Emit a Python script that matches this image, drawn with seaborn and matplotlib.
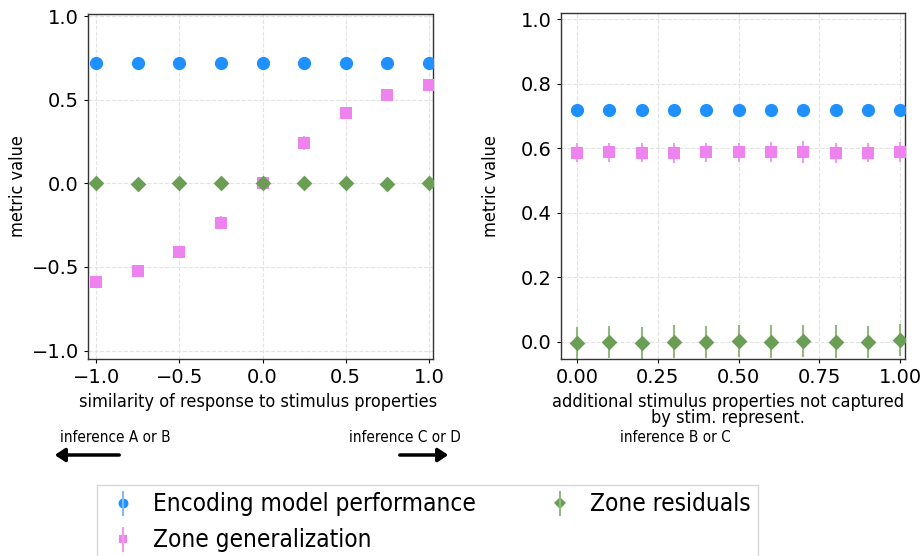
import matplotlib
matplotlib.use("Agg")
import matplotlib.pyplot as plt
from matplotlib.legend_handler import HandlerTuple
from matplotlib.lines import Line2D
from matplotlib.patches import FancyArrowPatch
import pandas as pd
import seaborn as sns

# Left panel: similarity of response to stimulus properties
sim_x = [-1.0, -0.75, -0.5, -0.25, 0.0, 0.25, 0.5, 0.75, 1.0]
sim_encoding = [0.72, 0.72, 0.72, 0.72, 0.72, 0.72, 0.72, 0.72, 0.72]
sim_encoding_err = [0.005, 0.005, 0.005, 0.005, 0.005, 0.005, 0.005, 0.005, 0.005]
sim_general = [-0.59, -0.525, -0.41, -0.235, 0.0, 0.24, 0.42, 0.525, 0.59]
sim_general_err = [0.02, 0.025, 0.025, 0.04, 0.02, 0.04, 0.03, 0.025, 0.02]
sim_resid = [0.0, -0.002, 0.0, -0.001, 0.0, 0.001, 0.001, -0.002, 0.0]
sim_resid_err = [0.01, 0.01, 0.01, 0.01, 0.01, 0.02, 0.01, 0.01, 0.01]

# Right panel: additional stimulus properties not captured
add_x = [0.0, 0.1, 0.2, 0.3, 0.4, 0.5, 0.6, 0.7, 0.8, 0.9, 1.0]
add_encoding = [0.719, 0.72, 0.718, 0.718, 0.719, 0.719, 0.72, 0.719, 0.719, 0.719, 0.72]
add_encoding_err = [0.005] * 11
add_general = [0.586, 0.587, 0.586, 0.585, 0.587, 0.587, 0.588, 0.587, 0.585, 0.586, 0.588]
add_general_err = [0.03, 0.03, 0.03, 0.03, 0.03, 0.03, 0.03, 0.034, 0.03, 0.03, 0.03]
add_resid = [-0.003, 0.0, -0.003, 0.001, 0.0, 0.002, 0.001, 0.003, 0.001, -0.001, 0.005]
add_resid_err = [0.05, 0.05, 0.05, 0.05, 0.05, 0.05, 0.05, 0.05, 0.05, 0.05, 0.05]

metric_names = ["Encoding model performance", "Zone generalization", "Zone residuals"]
colors = {"Encoding model performance": "#1e90ff",
          "Zone generalization": "#ee82ee",
          "Zone residuals": "#6a9e55"}
err_colors = {"Encoding model performance": "#7fbcff",
              "Zone generalization": "#f09af0",
              "Zone residuals": "#8fbb7e"}
markers = {"Encoding model performance": "o",
           "Zone generalization": "s",
           "Zone residuals": "D"}
sizes = {"Encoding model performance": 9.5, "Zone generalization": 8.5, "Zone residuals": 8}


def make_frame(x, enc, enc_err, gen, gen_err, res, res_err):
    rows = []
    for name, vals, errs in zip(metric_names, [enc, gen, res], [enc_err, gen_err, res_err]):
        for xi, v, e in zip(x, vals, errs):
            rows.append({"x": xi, "value": v, "err": e, "metric": name})
    return pd.DataFrame(rows)


df_sim = make_frame(sim_x, sim_encoding, sim_encoding_err, sim_general, sim_general_err,
                    sim_resid, sim_resid_err)
df_add = make_frame(add_x, add_encoding, add_encoding_err, add_general, add_general_err,
                    add_resid, add_resid_err)

sns.set_style("whitegrid", {"grid.linestyle": "--", "grid.color": "#e3e3e3",
                            "axes.edgecolor": "#333333"})
plt.rcParams["font.family"] = ["DejaVu Sans"]
plt.rcParams["text.color"] = "black"
plt.rcParams["axes.labelcolor"] = "black"
plt.rcParams["xtick.color"] = "black"
plt.rcParams["ytick.color"] = "black"

cond = dict(family="DejaVu Sans", stretch="condensed")

fig = plt.figure(figsize=(9.22, 5.56), dpi=100)
ax1 = fig.add_axes([88 / 922, 1 - 359 / 556, 345 / 922, 345 / 556])
ax2 = fig.add_axes([561 / 922, 1 - 359 / 556, 344 / 922, 346 / 556])

handles = {}
for ax, df in [(ax1, df_sim), (ax2, df_add)]:
    for name in metric_names:
        sub = df[df.metric == name]
        ax.errorbar(sub.x, sub.value, yerr=sub.err, fmt="none",
                    ecolor=err_colors[name], elinewidth=1.5, zorder=2)
        sns.scatterplot(data=sub, x="x", y="value", ax=ax, color=colors[name],
                        marker=markers[name], s=sizes[name] ** 2, linewidth=0,
                        legend=False, zorder=3)
        if ax is ax1:
            handles[name] = (Line2D([], [], ls="none", marker=markers[name],
                                    color=colors[name], markersize=sizes[name] * 0.75,
                                    markeredgewidth=0),
                             Line2D([], [], ls="none", marker="|", color=err_colors[name],
                                    markersize=18, markeredgewidth=1.5))
    ax.set_xlabel("")
    ax.tick_params(axis="both", labelsize=14, length=3, left=True, bottom=True)
    ax.set_ylabel("metric value", fontsize=13, **cond)
    ax.yaxis.set_label_coords(-0.177, 0.5)
    for s in ax.spines.values():
        s.set_linewidth(1.0)

ax1.set_xlim(-1.05, 1.025)
ax1.set_ylim(-1.05, 1.012)
ax1.set_xticks([-1.0, -0.5, 0.0, 0.5, 1.0])
ax1.set_yticks([-1.0, -0.5, 0.0, 0.5, 1.0])

ax2.set_xlim(-0.05, 1.015)
ax2.set_ylim(-0.053, 1.019)
ax2.set_xticks([0.0, 0.25, 0.5, 0.75, 1.0])
ax2.set_yticks([0.0, 0.2, 0.4, 0.6, 0.8, 1.0])

# x labels and inference notes
fig.text(258 / 922, 1 - 402 / 556, "similarity of response to stimulus properties",
         ha="center", va="center", fontsize=13, **cond)
fig.text(728 / 922, 1 - 410 / 556,
         "additional stimulus properties not captured\nby stim. represent.",
         ha="center", va="center", fontsize=13, linespacing=0.8, **cond)
fig.text(115 / 922, 1 - 437 / 556, "inference A or B", ha="center", va="center",
         fontsize=11, **cond)
fig.text(405 / 922, 1 - 437 / 556, "inference C or D", ha="center", va="center",
         fontsize=11, **cond)
fig.text(675 / 922, 1 - 437 / 556, "inference B or C", ha="center", va="center",
         fontsize=11, **cond)

fig.add_artist(FancyArrowPatch(
    (122 / 922, 1 - 455 / 556), (52 / 922, 1 - 455 / 556), transform=fig.transFigure,
    arrowstyle="-|>,head_length=6,head_width=4", color="black", lw=2.5))
fig.add_artist(FancyArrowPatch(
    (397 / 922, 1 - 455 / 556), (451 / 922, 1 - 455 / 556), transform=fig.transFigure,
    arrowstyle="-|>,head_length=6,head_width=4", color="black", lw=2.5))

leg = fig.legend([handles[n] for n in metric_names], metric_names, ncol=2,
                 loc="upper left", bbox_to_anchor=(97 / 922, 1 - 485 / 556),
                 prop=dict(size=17.5, **cond), frameon=True,
                 handler_map={tuple: HandlerTuple(ndivide=1)},
                 handlelength=1.5, handletextpad=0.5, columnspacing=2.7, labelspacing=0.5,
                 borderaxespad=0, borderpad=0.3, fancybox=False, edgecolor="#cccccc")

fig.savefig("out.png", dpi=100)
